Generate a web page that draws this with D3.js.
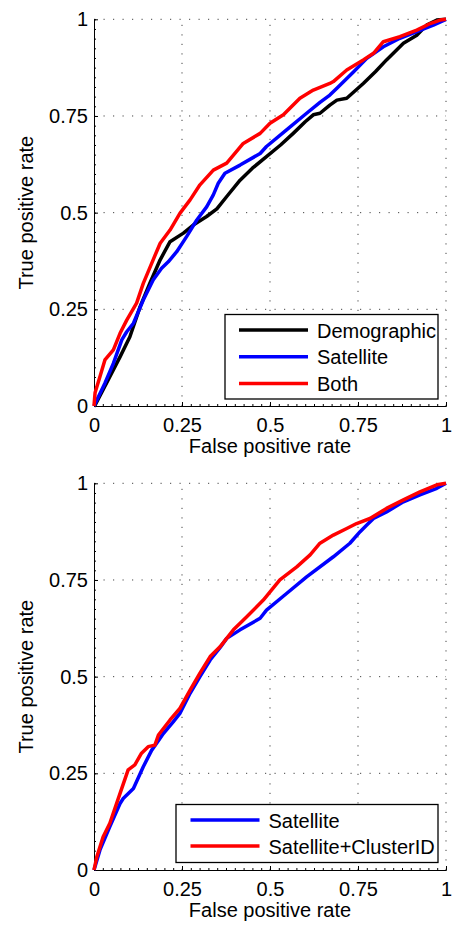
<!DOCTYPE html>
<html>
<head>
<meta charset="utf-8">
<script src="https://cdn.jsdelivr.net/npm/d3@7"></script>
<style>
  body { margin: 0; background: #fff; }
  text { font-family: "Liberation Sans", Arial, sans-serif; }
</style>
</head>
<body>
<script>
// ROC curves, [false positive rate, true positive rate]
var topDemographic = [[0,0],[0.003,0.002],[0.045,0.076],[0.074,0.127],[0.102,0.179],[0.131,0.257],[0.159,0.318],[0.188,0.378],[0.216,0.425],[0.254,0.447],[0.282,0.468],[0.32,0.49],[0.349,0.51],[0.38,0.545],[0.415,0.584],[0.45,0.615],[0.49,0.645],[0.53,0.675],[0.566,0.705],[0.6,0.735],[0.623,0.753],[0.642,0.757],[0.67,0.778],[0.69,0.791],[0.718,0.796],[0.765,0.834],[0.8,0.865],[0.831,0.895],[0.879,0.938],[0.917,0.959],[0.945,0.985],[0.974,0.998],[1,1]];
var topSatellite = [[0,0],[0.031,0.059],[0.055,0.11],[0.079,0.171],[0.093,0.192],[0.112,0.214],[0.14,0.274],[0.168,0.326],[0.192,0.356],[0.211,0.373],[0.235,0.399],[0.263,0.438],[0.292,0.481],[0.32,0.515],[0.339,0.546],[0.353,0.576],[0.372,0.602],[0.415,0.623],[0.472,0.653],[0.49,0.671],[0.547,0.714],[0.604,0.757],[0.642,0.785],[0.67,0.804],[0.69,0.822],[0.737,0.864],[0.775,0.899],[0.822,0.929],[0.869,0.951],[0.917,0.968],[0.964,0.985],[1,1]];
var topBoth = [[0,0],[0.003,0.034],[0.017,0.076],[0.031,0.119],[0.055,0.145],[0.074,0.188],[0.093,0.222],[0.121,0.266],[0.14,0.317],[0.168,0.378],[0.188,0.421],[0.216,0.455],[0.244,0.498],[0.273,0.533],[0.301,0.572],[0.339,0.61],[0.377,0.628],[0.424,0.679],[0.472,0.705],[0.5,0.731],[0.538,0.753],[0.585,0.796],[0.623,0.817],[0.67,0.834],[0.68,0.839],[0.718,0.869],[0.765,0.895],[0.794,0.912],[0.822,0.942],[0.869,0.955],[0.917,0.972],[0.955,0.989],[0.983,0.998],[1,1]];

var botSatellite = [[0,0],[0.017,0.052],[0.045,0.112],[0.074,0.172],[0.083,0.185],[0.112,0.211],[0.14,0.267],[0.164,0.31],[0.178,0.328],[0.197,0.353],[0.225,0.383],[0.244,0.405],[0.273,0.457],[0.301,0.5],[0.33,0.543],[0.358,0.575],[0.377,0.599],[0.415,0.621],[0.472,0.651],[0.49,0.672],[0.547,0.715],[0.604,0.758],[0.68,0.81],[0.727,0.845],[0.756,0.875],[0.775,0.892],[0.794,0.909],[0.831,0.926],[0.879,0.952],[0.926,0.97],[0.974,0.987],[1,1]];
var botCluster = [[0,0],[0.008,0.034],[0.026,0.086],[0.045,0.121],[0.074,0.198],[0.097,0.259],[0.116,0.272],[0.135,0.302],[0.154,0.319],[0.173,0.323],[0.183,0.349],[0.216,0.388],[0.244,0.418],[0.273,0.465],[0.301,0.509],[0.33,0.552],[0.358,0.577],[0.396,0.621],[0.434,0.655],[0.481,0.698],[0.528,0.75],[0.576,0.784],[0.614,0.815],[0.642,0.845],[0.68,0.866],[0.718,0.883],[0.746,0.896],[0.784,0.909],[0.831,0.935],[0.879,0.957],[0.926,0.978],[0.974,0.996],[1,1]];

var tickValues = [0, 0.25, 0.5, 0.75, 1];
var tickLabels = ["0", "0.25", "0.5", "0.75", "1"];
var gridValues = [0.25, 0.5, 0.75, 1];

var topNames = ["Demographic", "Satellite", "Both"];
var botNames = ["Satellite", "Satellite+ClusterID"];

var svg = d3.select("body").append("svg")
    .attr("width", 452).attr("height", 926);

var left = 94, plotW = 352, plotH = 386.7;
var fmt = (d) => tickLabels[tickValues.indexOf(d)];

function panel(top, series, colors, names, legend) {
    var x = d3.scaleLinear().domain([0, 1]).range([left, left + plotW]);
    var y = d3.scaleLinear().domain([0, 1]).range([top + plotH, top]);
    var g = svg.append("g");

    // dotted grid
    g.selectAll(".gx").data(gridValues).enter().append("line")
        .attr("x1", (d) => x(d)).attr("x2", (d) => x(d))
        .attr("y1", y(0)).attr("y2", y(1))
        .attr("stroke", "#444").attr("stroke-width", 1)
        .attr("stroke-dasharray", "1.2,8.3");
    g.selectAll(".gy").data(gridValues).enter().append("line")
        .attr("x1", x(0)).attr("x2", x(1))
        .attr("y1", (d) => y(d)).attr("y2", (d) => y(d))
        .attr("stroke", "#444").attr("stroke-width", 1)
        .attr("stroke-dasharray", "1.2,8.3");

    var minor = d3.range(0, 1.0001, 0.025);
    g.append("g").attr("transform", `translate(0,${y(0)})`)
        .call(d3.axisBottom(x).tickValues(minor).tickSize(-2).tickSizeOuter(0).tickFormat(""));
    g.append("g").attr("transform", `translate(${x(0)},0)`)
        .call(d3.axisLeft(y).tickValues(minor).tickSize(-2).tickSizeOuter(0).tickFormat(""));

    var xa = g.append("g").attr("transform", `translate(0,${y(0)})`)
        .call(d3.axisBottom(x).tickValues(tickValues).tickFormat(fmt)
            .tickSize(-4).tickSizeOuter(0).tickPadding(12));
    var ya = g.append("g").attr("transform", `translate(${x(0)},0)`)
        .call(d3.axisLeft(y).tickValues(tickValues).tickFormat(fmt)
            .tickSize(-4).tickSizeOuter(0).tickPadding(6));
    g.selectAll(".domain, .tick line").attr("stroke", "#000");
    g.selectAll(".tick text").attr("fill", "#000")
        .style("font-size", "20px")
        .style("font-family", "'Liberation Sans', Arial, sans-serif");

    var line = d3.line().x((d) => x(d[0])).y((d) => y(d[1]));
    series.forEach((s, i) => {
        g.append("path").datum(s)
            .attr("d", line)
            .attr("fill", "none")
            .attr("stroke", colors[i])
            .attr("stroke-width", 3.5)
            .attr("stroke-linejoin", "round");
    });

    g.append("text").text("False positive rate")
        .attr("x", x(0.5)).attr("y", y(0) + 47)
        .attr("text-anchor", "middle").style("font-size", "20px");
    g.append("text").text("True positive rate")
        .attr("transform", `translate(33,${y(0.5)}) rotate(-90)`)
        .attr("text-anchor", "middle").style("font-size", "20px");

    // legend
    var lg = g.append("g");
    lg.append("rect")
        .attr("x", legend.x).attr("y", legend.y)
        .attr("width", legend.w).attr("height", legend.h)
        .attr("fill", "#fff").attr("stroke", "#000").attr("stroke-width", 1.3);
    names.forEach((n, i) => {
        var ry = legend.y + legend.first + i * legend.step;
        lg.append("line")
            .attr("x1", legend.x + legend.pad).attr("x2", legend.x + legend.pad + 69)
            .attr("y1", ry).attr("y2", ry)
            .attr("stroke", colors[i]).attr("stroke-width", 3.5);
        lg.append("text").text(n)
            .attr("x", legend.x + legend.pad + 78).attr("y", ry + 7.5)
            .style("font-size", "20px");
    });
}

panel(19.3, [topDemographic, topSatellite, topBoth], ["#000", "#0000ff", "#ff0000"], topNames,
    { x: 225, y: 314.5, w: 213, h: 84.5, pad: 14, first: 15.5, step: 26.7 });
panel(483.3, [botSatellite, botCluster], ["#0000ff", "#ff0000"], botNames,
    { x: 176, y: 804.5, w: 262, h: 58, pad: 14.5, first: 15.5, step: 26 });
</script>
</body>
</html>
